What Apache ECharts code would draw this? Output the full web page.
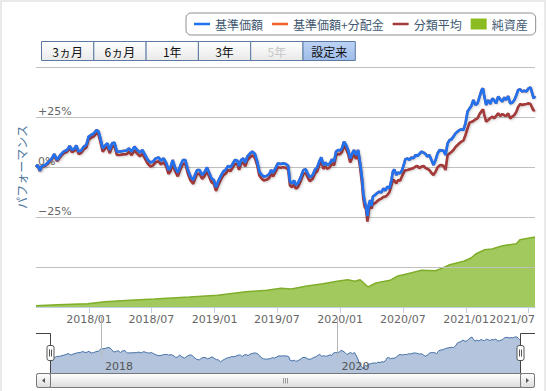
<!DOCTYPE html>
<html><head><meta charset="utf-8">
<script src="https://cdn.jsdelivr.net/npm/echarts@6/dist/echarts.min.js"></script>
<style>html,body{margin:0;padding:0;background:#fff}#c{width:548px;height:391px}</style>
</head><body><div id="c"></div>
<script>
// ---- data ----
const dates = [
'2017-07-31','2017-08-05','2017-08-11','2017-08-17','2017-08-27','2017-09-06','2017-09-15','2017-09-22','2017-09-30','2017-10-10','2017-10-19','2017-10-29','2017-11-06','2017-11-13','2017-11-20','2017-11-25','2017-12-02','2017-12-09','2017-12-17','2017-12-24','2017-12-31',
'2018-01-07','2018-01-15','2018-01-23','2018-01-29','2018-02-03','2018-02-10','2018-02-18','2018-02-24','2018-03-02','2018-03-09','2018-03-16','2018-03-23','2018-03-31','2018-04-10','2018-04-20','2018-04-27','2018-05-05','2018-05-13','2018-05-21','2018-05-29','2018-06-05','2018-06-13','2018-06-21','2018-06-29','2018-07-06','2018-07-14','2018-07-22','2018-07-29','2018-08-06','2018-08-14','2018-08-20','2018-08-26','2018-09-01','2018-09-08','2018-09-16','2018-09-24','2018-10-01','2018-10-08','2018-10-15','2018-10-23','2018-10-31','2018-11-05','2018-11-11','2018-11-18','2018-11-26','2018-12-03','2018-12-10','2018-12-16','2018-12-23','2018-12-30',
'2019-01-05','2019-01-11','2019-01-18','2019-01-26','2019-02-03','2019-02-09','2019-02-16','2019-02-22','2019-03-01','2019-03-08','2019-03-13','2019-03-19','2019-03-25','2019-03-31','2019-04-06','2019-04-14','2019-04-21','2019-04-28','2019-05-05','2019-05-11','2019-05-18','2019-05-24','2019-06-01','2019-06-09','2019-06-14','2019-06-20','2019-06-28','2019-07-04','2019-07-12','2019-07-19','2019-07-27','2019-08-03','2019-08-08','2019-08-14','2019-08-20','2019-08-25','2019-08-31','2019-09-08','2019-09-16','2019-09-23','2019-09-29','2019-10-05','2019-10-13','2019-10-20','2019-10-26','2019-11-01','2019-11-07','2019-11-13','2019-11-19','2019-11-24','2019-12-02','2019-12-08','2019-12-14','2019-12-20','2019-12-26','2019-12-31',
'2020-01-06','2020-01-12','2020-01-18','2020-01-24','2020-01-30','2020-02-05','2020-02-10','2020-02-16','2020-02-22','2020-02-28','2020-03-05','2020-03-08','2020-03-12','2020-03-16','2020-03-20','2020-03-24','2020-03-28','2020-04-01','2020-04-05','2020-04-11','2020-04-16','2020-04-24','2020-04-30','2020-05-05','2020-05-11','2020-05-17','2020-05-23','2020-05-29','2020-06-02','2020-06-06','2020-06-12','2020-06-17','2020-06-23','2020-06-29','2020-07-05','2020-07-08','2020-07-14','2020-07-20','2020-07-26','2020-08-01','2020-08-07','2020-08-12','2020-08-18','2020-08-24','2020-08-30','2020-09-05','2020-09-10','2020-09-16','2020-09-22','2020-09-28','2020-10-04','2020-10-10','2020-10-16','2020-10-21','2020-10-27','2020-11-02','2020-11-08','2020-11-14','2020-11-19','2020-11-25','2020-12-01','2020-12-07','2020-12-13','2020-12-18','2020-12-24','2020-12-30',
'2021-01-05','2021-01-11','2021-01-16','2021-01-22','2021-01-28','2021-02-03','2021-02-09','2021-02-15','2021-02-19','2021-02-22','2021-02-28','2021-03-06','2021-03-12','2021-03-18','2021-03-23','2021-03-29','2021-04-04','2021-04-10','2021-04-16','2021-04-22','2021-04-27','2021-05-03','2021-05-09','2021-05-15','2021-05-21','2021-05-27','2021-06-01','2021-06-07','2021-06-13','2021-06-19','2021-06-25','2021-07-01','2021-07-07','2021-07-12','2021-07-16','2021-07-20'
];
// 基準価額 (performance %)
const nav = [
0,1.0,-1.8,0.5,1.0,2.7,4.3,6.5,3.5,6.0,7.7,8.5,10.5,8.5,9.3,10.8,7.7,8.2,10.2,11.0,15.2,
16.0,16.8,18.5,17.7,14.3,9.3,11.0,11.8,8.5,11.8,12.2,7.7,7.7,8.0,8.2,9.3,7.7,10.2,8.5,7.2,8.5,6.0,3.5,2.2,2.7,4.3,4.8,3.2,4.3,1.8,-1.5,-0.2,3.5,-0.2,-2.8,1.0,3.5,3.5,-1.2,-4.8,-6.5,-4.0,-1.5,-1.5,-4.0,-2.5,-0.2,-2.8,-5.7,-6.5,
-10.2,-7.3,-4.8,-2.3,-1.2,0.5,-0.2,1.5,3.5,3.2,0.5,3.5,4.3,2.2,5.2,6.8,7.7,6.5,2.7,-2.3,-4.0,-4.8,-4.5,-3.5,-1.5,-2.8,-0.2,1.8,1.5,1.8,1.5,0.5,-7.3,-8.2,-6.8,-9.0,-8.2,-5.2,-1.5,-1.2,-3.5,-5.2,-4.0,-1.2,-0.2,2.7,4.8,1.0,2.2,1.0,1.8,3.8,2.7,7.7,8.5,8.2,
9.3,12.7,11.0,8.5,4.3,6.8,8.5,6.0,8.5,1.8,-6.5,-13.2,-17.3,-19.8,-24.5,-19.0,-16.5,-19.5,-14.8,-14.0,-13.2,-12.3,-12.8,-10.7,-11.8,-9.8,-10.7,-6.5,-2.3,-1.2,-4.0,-2.8,-3.2,-1.5,1.8,3.8,4.3,3.5,4.8,4.3,6.0,5.5,6.5,7.7,7.2,6.5,5.2,6.0,3.5,1.0,3.5,6.8,8.5,8.2,8.2,6.0,11.8,13.5,13.8,15.2,16.8,17.7,18.5,18.8,18.5,21.8,
27.7,29.3,30.5,33.5,31.0,31.8,35.2,38.5,39.3,36.0,31.0,33.5,31.5,34.3,33.5,31.8,35.2,33.8,32.7,34.8,33.5,35.5,31.8,32.2,33.5,36.0,38.5,38.8,37.7,38.2,37.7,39.3,39.8,36.8,34.3,35.5
];
// 基準価額+分配金 (no distributions: coincides with 基準価額)
const navPlusDist = nav.slice();
// 分類平均 (performance %)
const categoryAvg = [
0,0.8,-2.0,0.2,0.6,2.2,3.8,5.8,2.9,5.2,6.8,7.6,9.4,7.4,8.2,9.6,6.5,7.0,8.9,9.7,13.8,
14.6,15.3,17.0,16.1,12.7,7.7,9.4,10.1,6.9,10.1,10.5,6.0,6.0,6.3,6.4,7.5,5.9,8.3,6.7,5.3,6.6,4.1,1.6,0.3,0.8,2.4,2.9,1.3,2.4,-0.1,-3.4,-2.1,1.6,-2.1,-4.7,-0.9,1.6,1.6,-3.1,-6.7,-8.4,-5.9,-3.4,-3.4,-5.9,-4.4,-2.1,-4.7,-7.6,-8.4,
-12.0,-9.2,-6.7,-4.2,-3.1,-1.4,-2.1,-0.4,1.6,1.3,-1.4,1.6,2.4,0.3,3.3,4.9,5.8,4.6,0.8,-4.2,-5.9,-6.7,-6.4,-5.4,-3.4,-4.7,-2.1,-0.1,-0.4,-0.1,-0.4,-1.4,-9.2,-10.1,-8.7,-10.9,-10.1,-7.1,-3.4,-3.1,-5.4,-7.1,-5.9,-3.1,-2.1,0.8,2.9,-0.9,0.3,-0.9,-0.1,1.9,0.8,5.8,6.6,6.3,
7.4,10.7,9.0,6.5,2.3,4.8,6.5,4.0,6.5,-0.4,-9.0,-15.6,-19.9,-21.0,-27.3,-22.0,-19.0,-20.8,-18.2,-18.2,-17.3,-16.2,-15.8,-15.0,-14.8,-14.0,-12.6,-9.0,-6.3,-6.8,-8.2,-6.5,-6.8,-4.5,-2.3,-1.7,-1.5,-1.2,-0.9,-0.5,0.2,0.5,-0.6,0.2,0.5,-0.5,-0.9,-1.5,-3.0,-4.0,-2.3,-0.2,0.8,1.0,0.5,-1.5,6.0,6.8,7.5,8.5,10.0,11.0,12.0,12.7,13.2,16.0,
19.3,22.2,22.5,23.0,23.8,24.3,26.5,28.0,28.8,26.5,22.7,23.5,24.5,25.2,24.3,25.5,26.8,25.5,26.5,25.8,25.5,26.8,24.3,25.2,26.0,27.7,30.0,31.5,31.0,31.3,31.5,31.8,31.5,29.5,28.2,28.5
];
// 純資産 (億円)
const aumDates = ['2017-07-31','2017-10-01','2017-12-28','2018-02-16','2018-05-01','2018-07-10','2018-10-20','2019-01-10','2019-04-02','2019-06-02','2019-07-13','2019-08-12','2019-09-22','2019-11-12','2019-12-23','2020-01-23','2020-02-12','2020-02-28','2020-03-22','2020-04-14','2020-05-25','2020-06-14','2020-07-15','2020-08-25','2020-10-04','2020-10-25','2020-11-14','2020-12-25','2021-01-15','2021-01-30','2021-02-24','2021-03-17','2021-04-17','2021-05-27','2021-06-06','2021-07-20'];
const aumValues = [1.3,2.2,3.3,5.3,6.8,8.0,10.0,11.7,15.3,16.7,18.7,18.0,20.7,23.3,25.7,27.3,25.7,27.3,20.0,24.0,26.7,30.7,33.3,36.7,36.3,39.0,42.3,45.7,49.0,53.3,57.3,58.0,61.3,63.3,67.3,70.0];
// tick labels
const perfTicks = [25, 0, -25];
const xTickDates = ['2018-01-01','2018-07-01','2019-01-01','2019-07-01','2020-01-01','2020-07-01','2021-01-01','2021-07-01'];
const navigatorYears = ['2018-01-01','2020-01-01'];
const rangeButtons = ['3ヵ月','6ヵ月','1年','3年','5年','設定来'];
const seriesNames = ['基準価額','基準価額+分配金','分類平均','純資産'];

// ---- helpers ----
const ts = s => { const p = s.split('-').map(Number); return new Date(p[0], p[1]-1, p[2]).getTime(); };
const pair = (ds, vs) => ds.map((d, i) => [ts(d), vs[i]]);
const xMin = ts(dates[0]), xMax = ts(dates[dates.length - 1]);
const fmtYM = v => { const d = new Date(v); return d.getFullYear() + '/' + String(d.getMonth() + 1).padStart(2, '0'); };
const fmtPct = v => v > 0 ? '+' + v + '%' : (v < 0 ? '\u2212' + (-v) + '%' : '0%');
const LAT = 'DejaVu Sans';
const JP = '"Noto Sans CJK JP"';
const tickVals = xTickDates.map(ts);

const COL_NAV = '#2271ee', COL_DIST = '#f0622a', COL_AVG = '#a33b3b', COL_AUM = '#8bbc21';

// ---- graphics (range selector, navigator chrome, scrollbar, frame) ----
const g = [];
g.push({type:'rect', shape:{x:1, y:1, width:544, height:400}, style:{fill:'none', stroke:'#e2e2e2', lineWidth:1.5}, silent:true, z:0});
const bx0 = 41.5, bw = 52.3, by = 41.5, bh = 19;
rangeButtons.forEach((t, i) => {
  const sel = i === rangeButtons.length - 1, dis = t === '5年';
  g.push({type:'rect', shape:{x:bx0 + i*bw, y:by, width:bw, height:bh},
    style:{fill: sel ? {type:'linear',x:0,y:0,x2:0,y2:1,colorStops:[{offset:0,color:'#bcd3f5'},{offset:1,color:'#9fbde8'}]}
                     : {type:'linear',x:0,y:0,x2:0,y2:1,colorStops:[{offset:0,color:'#ffffff'},{offset:1,color:'#e9e9e9'}]},
      stroke:'#5a7aa3', lineWidth:1}, z:10});
  g.push({type:'text', style:{text:t, x:bx0 + i*bw + bw/2, y:by + bh/2 + 0.5, align:'center', verticalAlign:'middle',
    fontSize:12, fontFamily:JP, fill: dis ? '#c8c8c8' : '#111'}, z:11});
});
// navigator outline
g.push({type:'polyline', shape:{points:[[36,333.5],[50.5,333.5],[50.5,373.5]]}, style:{stroke:'#444', lineWidth:1, fill:'none'}, z:20});
g.push({type:'polyline', shape:{points:[[520.5,373.5],[520.5,333.5],[535,333.5]]}, style:{stroke:'#444', lineWidth:1, fill:'none'}, z:20});
// handles
[50.5, 520.5].forEach(cx => {
  g.push({type:'rect', shape:{x:cx-3.5, y:345.5, width:7, height:15, r:2}, style:{fill:'#fff', stroke:'#555', lineWidth:1}, z:21});
  g.push({type:'line', shape:{x1:cx-1, y1:349.5, x2:cx-1, y2:356.5}, style:{stroke:'#555', lineWidth:1}, z:22});
  g.push({type:'line', shape:{x1:cx+1, y1:349.5, x2:cx+1, y2:356.5}, style:{stroke:'#555', lineWidth:1}, z:22});
});
// scrollbar
const sbGrad = {type:'linear',x:0,y:0,x2:0,y2:1,colorStops:[{offset:0,color:'#ffffff'},{offset:1,color:'#dcdcdc'}]};
g.push({type:'rect', shape:{x:36.5, y:373.5, width:498, height:14, r:2}, style:{fill:'#eeeeee', stroke:'#888', lineWidth:1}, z:20});
g.push({type:'rect', shape:{x:50.5, y:373.5, width:470, height:14, r:1}, style:{fill:sbGrad, stroke:'#777', lineWidth:1}, z:21});
g.push({type:'rect', shape:{x:36.5, y:373.5, width:14, height:14, r:2}, style:{fill:sbGrad, stroke:'#777', lineWidth:1}, z:21});
g.push({type:'rect', shape:{x:520.5, y:373.5, width:14, height:14, r:2}, style:{fill:sbGrad, stroke:'#777', lineWidth:1}, z:21});
g.push({type:'polygon', shape:{points:[[42,380.5],[45,378],[45,383]]}, style:{fill:'#555'}, z:22});
g.push({type:'polygon', shape:{points:[[529,380.5],[526,378],[526,383]]}, style:{fill:'#555'}, z:22});
[283.5, 285.5, 287.5].forEach(x => g.push({type:'line', shape:{x1:x, y1:378, x2:x, y2:383.5}, style:{stroke:'#999', lineWidth:1}, z:22}));

const labelStyle = {color: '#666', fontSize: 11, fontFamily: LAT, margin: 7};

const option = {
  animation: false,
  backgroundColor: '#fff',
  legend: {
    left: 186, top: 13, orient: 'horizontal',
    padding: [5, 8, 5, 8], itemGap: 9, itemWidth: 16, itemHeight: 12,
    borderColor: '#909090', borderWidth: 1, borderRadius: 5,
    itemStyle: {borderWidth: 0},
    textStyle: {color: '#3e576f', fontSize: 12, fontFamily: JP},
    data: [
      {name: seriesNames[0], icon: 'path://M0,0H16V2.5H0Z'},
      {name: seriesNames[1], icon: 'path://M0,0H16V2.5H0Z'},
      {name: seriesNames[2], icon: 'path://M0,0H16V2.5H0Z'},
      {name: seriesNames[3], icon: 'path://M0,0H16V11H0Z'}
    ]
  },
  grid: [
    {left: 36, right: 13, top: 67, height: 200},
    {left: 36, right: 13, top: 67, height: 240},
    {left: 51, right: 27, top: 333, height: 40}
  ],
  xAxis: [
    {gridIndex: 0, type: 'value', min: xMin, max: xMax, show: false, splitLine: {show: false}},
    {gridIndex: 1, type: 'value', position: 'bottom', min: xMin, max: xMax,
      axisLine: {lineStyle: {color: '#c0d0e0'}},
      axisTick: {customValues: tickVals, length: 6, lineStyle: {color: '#c0d0e0'}},
      axisLabel: Object.assign({customValues: tickVals.slice(0, -1), formatter: fmtYM, showMaxLabel: true, showMinLabel: true}, labelStyle),
      splitLine: {show: false}},
    // last date label, kept inside the plot like the original (right-aligned at the plot edge)
    {gridIndex: 1, type: 'value', position: 'bottom', offset: 0, min: xMin, max: xMax,
      axisLine: {show: false}, axisTick: {show: false}, splitLine: {show: false},
      axisLabel: Object.assign({customValues: [xMax], formatter: () => fmtYM(tickVals[tickVals.length - 1]), align: 'right', alignMaxLabel: 'right', showMaxLabel: true}, labelStyle)},
    {gridIndex: 2, type: 'value', position: 'bottom', min: xMin, max: xMax, z: 5,
      axisLine: {show: false},
      axisTick: {customValues: navigatorYears.map(ts), inside: true, length: 40, lineStyle: {color: '#b8b8b8'}},
      axisLabel: {customValues: navigatorYears.map(ts), inside: true, formatter: v => String(new Date(v).getFullYear()),
        align: 'left', verticalAlign: 'bottom', margin: 1, padding: [0, 0, 0, 4], color: '#555', fontSize: 11, fontFamily: LAT},
      splitLine: {show: false}}
  ],
  yAxis: [
    {gridIndex: 0, type: 'value', min: -50, max: 50, interval: 25, z: 3,
      name: 'パフォーマンス', nameLocation: 'middle', nameRotate: 90, nameGap: 8,
      nameTextStyle: {color: '#4d759e', fontSize: 12, fontFamily: JP},
      axisLine: {show: false}, axisTick: {show: false},
      axisLabel: {inside: true, margin: 2, customValues: perfTicks, formatter: fmtPct, color: '#666', fontSize: 11, fontFamily: LAT, verticalAlign: 'bottom', align: 'left'},
      splitLine: {lineStyle: {color: '#c0c0c0', width: 1}}},
    {gridIndex: 1, type: 'value', min: 0, max: 240, show: false, splitLine: {show: false}},
    {gridIndex: 2, type: 'value', min: -32.5, max: 47.5, show: false, splitLine: {show: false}}
  ],
  series: [
    {name: seriesNames[0], type: 'line', xAxisIndex: 0, yAxisIndex: 0, data: pair(dates, nav), symbol: 'none', color: COL_NAV,
      lineStyle: {width: 2.7, color: COL_NAV, shadowColor: 'rgba(0,0,0,0.18)', shadowBlur: 2, shadowOffsetX: 1, shadowOffsetY: 1}, z: 8},
    {name: seriesNames[1], type: 'line', xAxisIndex: 0, yAxisIndex: 0, data: pair(dates, navPlusDist), symbol: 'none', color: COL_DIST,
      lineStyle: {width: 2.5, color: COL_DIST}, z: 6},
    {name: seriesNames[2], type: 'line', xAxisIndex: 0, yAxisIndex: 0, data: pair(dates, categoryAvg), symbol: 'none', color: COL_AVG,
      lineStyle: {width: 2.7, color: COL_AVG, shadowColor: 'rgba(0,0,0,0.18)', shadowBlur: 2, shadowOffsetX: 1, shadowOffsetY: 1}, z: 7},
    {name: seriesNames[3], type: 'line', xAxisIndex: 1, yAxisIndex: 1, data: pair(aumDates, aumValues), symbol: 'none', color: COL_AUM,
      lineStyle: {width: 1.5, color: '#7fae2a'}, areaStyle: {color: '#a2c95e', opacity: 1, origin: 'start'}, z: 2},
    {name: 'navigator', type: 'line', xAxisIndex: 3, yAxisIndex: 2, data: pair(dates, nav), symbol: 'none', color: '#4572a7',
      lineStyle: {width: 1, color: '#4572a7'}, areaStyle: {color: '#b3c4dc', opacity: 1, origin: 'start'}, z: 2, silent: true}
  ],
  graphic: {elements: g}
};
const chart = echarts.init(document.getElementById('c'), null, {renderer: 'svg'});
chart.setOption(option);
</script>
</body></html>
